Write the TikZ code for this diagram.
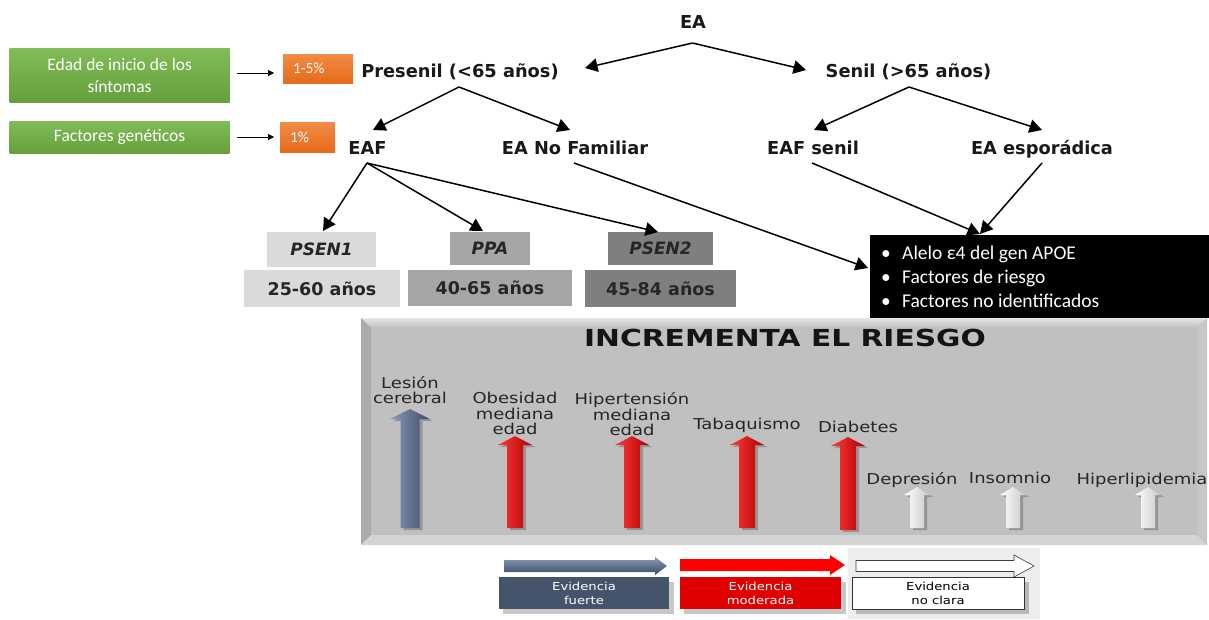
\documentclass[tikz,border=0pt]{standalone}
\usepackage{fontspec}
\setmainfont{DejaVu Sans}
\newfontfamily\calfont{Carlito}
\newfontfamily\lblfont{DejaVu Sans}[FakeStretch=1.2]
\newfontfamily\ttlfont{DejaVu Sans}[FakeStretch=1.27]
\usetikzlibrary{arrows.meta}
\definecolor{grnT}{HTML}{80BC58}
\definecolor{grnB}{HTML}{66A03C}
\definecolor{orgT}{HTML}{F28B45}
\definecolor{orgB}{HTML}{E56B1B}
\definecolor{gA}{HTML}{DADADA}
\definecolor{gB}{HTML}{A6A6A6}
\definecolor{gC}{HTML}{7F7F7F}
\definecolor{slate}{HTML}{44546A}
\definecolor{slateL}{HTML}{8B9BB8}
\definecolor{slateD}{HTML}{3A4A66}
\definecolor{redL}{HTML}{FF3A3A}
\definecolor{redD}{HTML}{B00000}
\definecolor{pnl}{HTML}{C0C0C0}
\newcommand\blockup[7]{%
  \path[#7] (#1,#2) -- (#1+#5,#2+#6) -- (#1+#4,#2+#6) -- (#1+#4,#3) -- (#1-#4,#3)
    -- (#1-#4,#2+#6) -- (#1-#5,#2+#6) -- cycle;}
\newcommand\blockright[7]{%
  \path[#7] (#1,#3-#4) -- (#2-#6,#3-#4) -- (#2-#6,#3-#5) -- (#2,#3) -- (#2-#6,#3+#5)
    -- (#2-#6,#3+#4) -- (#1,#3+#4) -- cycle;}
\tikzset{
  treelbl/.style={font=\fontsize{17.8}{20}\selectfont\bfseries, text=black!90, inner sep=0pt, anchor=base},
  tarr/.style={-{Triangle[length=12.5pt,width=13.5pt]}, line width=1.5pt, black},
  sarr/.style={-{Triangle[length=6pt,width=6pt]}, line width=0.7pt, black},
  greenbox/.style={top color=grnT, bottom color=grnB, text=white, font=\calfont\fontsize{17.5}{22}\selectfont, align=center, inner sep=0pt, minimum width=220pt},
  orangebox/.style={top color=orgT, bottom color=orgB, text=white, font=\calfont\fontsize{15.5}{18}\selectfont, inner xsep=10pt, inner ysep=0pt, align=left},
  genebox/.style={font=\fontsize{17}{20}\selectfont\bfseries\itshape, inner sep=0pt, text=black!85},
  agebox/.style={font=\fontsize{17.5}{20}\selectfont\bfseries, inner sep=0pt, text=black!85},
  risklbl/.style={font=\lblfont\fontsize{15}{15.5}\selectfont, text=black!85, align=center, inner sep=0pt},
  legbox/.style={font=\lblfont\fontsize{11}{14}\selectfont, align=center, inner sep=0pt, minimum height=32pt},
  arrshadow/.style={fill=black, opacity=0.22},
}
\begin{document}
\begin{tikzpicture}[x=1pt,y=-1pt]
\useasboundingbox (0,0) rectangle (1209,619);
\fill[white] (0,0) rectangle (1209,619);

% left boxes
\node[greenbox, minimum height=54pt] (g1) at (119.6,75) {Edad de inicio de los\\síntomas};
\node[greenbox, minimum height=32pt] (g2) at (119.6,137) {Factores genéticos};
\node[orangebox, text width=50pt, minimum height=29pt] (o1) at (318,68.5) {1-5\%};
\node[orangebox, text width=35pt, minimum height=30pt] (o2) at (307.5,137) {1\%};
\coordinate (a1s) at (237,73); \coordinate (a1e) at (274,73);
\coordinate (a2s) at (237,137); \coordinate (a2e) at (274,137);
\draw[sarr] (a1s) -- (a1e);
\draw[sarr] (a2s) -- (a2e);

% tree labels
\node[treelbl] (ea) at (693,28.5) {EA};
\node[treelbl] (pre) at (460,77.5) {Presenil (<65 años)};
\node[treelbl] (sen) at (908.5,77.5) {Senil (>65 años)};
\node[treelbl] (eaf) at (367.5,154.5) {EAF};
\node[treelbl] (nof) at (575,154.5) {EA No Familiar};
\node[treelbl] (eafs) at (813,154.5) {EAF senil};
\node[treelbl] (esp) at (1042,154.5) {EA esporádica};

% gene boxes
\node[genebox, fill=gA, minimum width=109pt, minimum height=35pt] (ps1) at (321.5,249.5) {PSEN1};
\node[genebox, fill=gB, minimum width=80pt, minimum height=33pt] (ppa) at (490,248.5) {PPA};
\node[genebox, fill=gC, minimum width=105pt, minimum height=33pt] (ps2) at (660.5,248.5) {PSEN2};
\node[agebox, fill=gA, minimum width=156pt, minimum height=37pt] (ag1) at (322,288.5) {25-60 años};
\node[agebox, fill=gB, minimum width=164pt, minimum height=36pt] (ag2) at (490,288) {40-65 años};
\node[agebox, fill=gC, minimum width=151pt, minimum height=37pt] (ag3) at (660.5,288.5) {45-84 años};

% black box
\node[fill=black, minimum width=339pt, minimum height=83pt, inner sep=0pt] (blk) at (1039.5,276.5) {};
\begin{scope}[every node/.style={font=\calfont\fontsize{19.5}{24}\selectfont, text=white, inner sep=0pt, anchor=base west}]
\node (b1) at (881,259.5) {•}; \node (t1) at (902,259.5) {Alelo ε4 del gen APOE};
\node (b2) at (881,283.5) {•}; \node (t2) at (902,283.5) {Factores de riesgo};
\node (b3) at (881,307.5) {•}; \node (t3) at (902,307.5) {Factores no identificados};
\end{scope}

% tree connector points
\coordinate (ea-o) at (692.5,43);
\coordinate (pre-i) at (585,68);
\coordinate (sen-i) at (806,70);
\coordinate (pre-o) at (459,87);
\coordinate (sen-o) at (909,87);
\coordinate (eaf-i) at (373,130);
\coordinate (nof-i) at (570,130);
\coordinate (eafs-i) at (814,130);
\coordinate (esp-i) at (1042,130);
\coordinate (eaf-o) at (367,163);
\coordinate (ps1-i) at (323,231);
\coordinate (ppa-i) at (483,231);
\coordinate (ps2-i) at (658,232);
\coordinate (nof-o) at (574,163);
\coordinate (blk-i) at (868,268);
\coordinate (eafs-o) at (812,163);
\coordinate (esp-o) at (1042,163);
\coordinate (blk-t) at (980,234);

\draw[tarr] (ea-o) -- (pre-i);
\draw[tarr] (ea-o) -- (sen-i);
\draw[tarr] (pre-o) -- (eaf-i);
\draw[tarr] (pre-o) -- (nof-i);
\draw[tarr] (sen-o) -- (eafs-i);
\draw[tarr] (sen-o) -- (esp-i);
\draw[tarr] (eaf-o) -- (ps1-i);
\draw[tarr] (eaf-o) -- (ppa-i);
\draw[tarr] (eaf-o) -- (ps2-i);
\draw[tarr] (nof-o) -- (blk-i);
\draw[tarr] (eafs-o) -- (blk-t);
\draw[tarr] (esp-o) -- (blk-t);

% risk panel
\fill[pnl] (361,318) rectangle (1207,545);
\shade[top color=black!10, bottom color=black!26] (361,318) -- (1207,318) -- (1197,328) -- (371,328) -- cycle;
\fill[black!33] (361,318) -- (371,328) -- (371,535) -- (361,545) -- cycle;
\fill[black!17] (361,545) -- (371,535) -- (1197,535) -- (1207,545) -- cycle;
\fill[black!22] (1207,318) -- (1197,328) -- (1197,535) -- (1207,545) -- cycle;
\node[font=\ttlfont\bfseries\fontsize{23.4}{26}\selectfont, text=black!92, inner sep=0pt] (ttl) at (785,338) {INCREMENTA EL RIESGO};

% risk labels
\node[risklbl] (l1) at (410,390) {Lesión\\cerebral};
\node[risklbl] (l2) at (515,413.5) {Obesidad\\mediana\\edad};
\node[risklbl] (l3) at (632,414.5) {Hipertensión\\mediana\\edad};
\node[risklbl] (l4) at (747,425) {Tabaquismo};
\node[risklbl] (l5) at (858,427) {Diabetes};
\node[risklbl] (l6) at (912,480) {Depresión};
\node[risklbl] (l7) at (1010,478) {Insomnio};
\node[risklbl] (l8) at (1142,480) {Hiperlipidemia};

% risk arrows
\blockup{413}{411}{530}{9.5}{20}{10}{arrshadow}
\blockup{410}{409}{528}{9.5}{20}{10}{left color=slateL, right color=slateD}
\foreach \cx/\ty/\by in {515/436/528, 632/436/528, 747/436/528, 848/437/530}{
  \blockup{\cx+3}{\ty+2}{\by+2}{8}{17}{9}{arrshadow}
  \blockup{\cx}{\ty}{\by}{8}{17}{9}{left color=redL, right color=redD}
}
\foreach \cx in {917,1013,1148}{
  \blockup{\cx+3}{489}{530}{7}{13}{8}{arrshadow}
  \blockup{\cx}{487}{528}{7}{13}{8}{left color=white, right color=black!22}
}

% legend
\fill[black!7] (848,548) rectangle (1040,619);
\fill[arrshadow] (503,582) rectangle (674,614);
\fill[arrshadow] (684,582) rectangle (846,614);
\fill[arrshadow] (856,582) rectangle (1029,614);
\blockright{504}{667}{566}{6}{9}{12}{top color=slateL, bottom color=slateD}
\blockright{680}{845}{565}{6}{10}{15}{fill=red}
\blockright{856}{1034}{566}{5.5}{11}{20}{fill=white, draw=black!75, line width=0.6pt}
\node[legbox, fill=slate, text=white, minimum width=170pt] (lg1) at (584,593) {Evidencia\\fuerte};
\node[legbox, fill=red!88!black, text=white, minimum width=161pt] (lg2) at (760.5,593) {Evidencia\\moderada};
\node[legbox, fill=white, draw=black!80, line width=0.6pt, text=black, minimum width=172pt] (lg3) at (938,593) {Evidencia\\no clara};
\end{tikzpicture}
\end{document}
